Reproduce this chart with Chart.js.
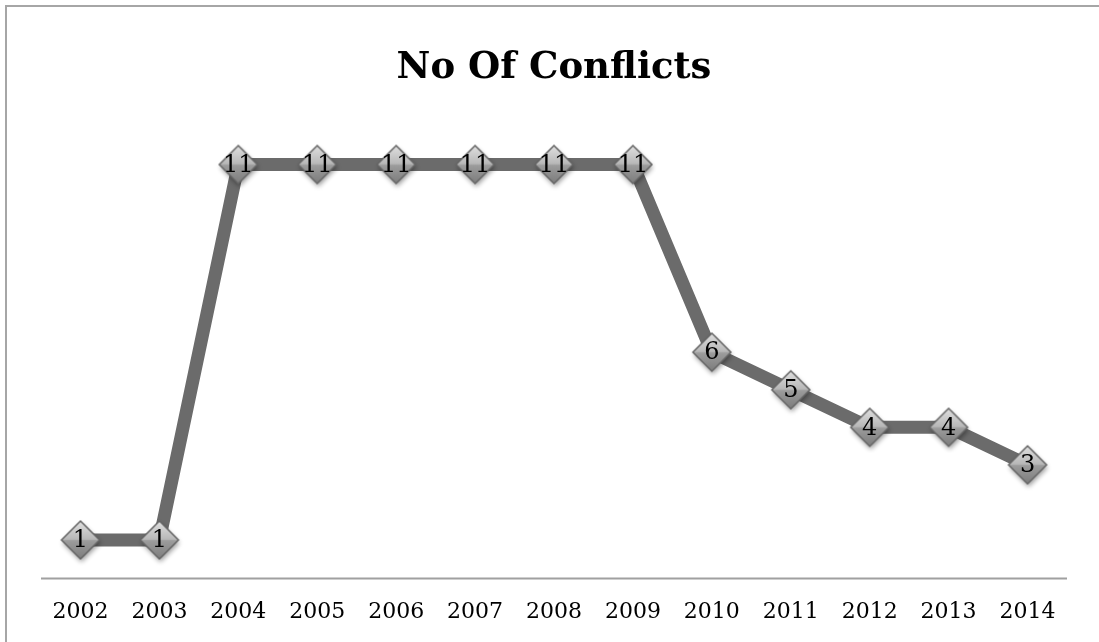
<!DOCTYPE html>
<html>
<head>
<meta charset="utf-8">
<script src="https://cdn.jsdelivr.net/npm/chart.js@4/dist/chart.umd.min.js"></script>
<style>
  html, body { margin: 0; padding: 0; background: #fff; }
  #wrap { width: 1099px; height: 642px; position: relative; }
</style>
</head>
<body>
<div id="wrap"><canvas id="c" width="1099" height="642"></canvas></div>
<script>
const years = ['2002','2003','2004','2005','2006','2007','2008','2009','2010','2011','2012','2013','2014'];
const conflicts = [1, 1, 11, 11, 11, 11, 11, 11, 6, 5, 4, 4, 3];
const chartTitle = 'No Of Conflicts';

// marker image: diamond with gradient and soft shadow
function makeMarker() {
  const S = 52, c = document.createElement('canvas');
  c.width = S; c.height = S;
  const g = c.getContext('2d');
  const cx = S / 2, cy = S / 2, r = 19;
  const path = () => {
    g.beginPath();
    g.moveTo(cx, cy - r); g.lineTo(cx + r, cy); g.lineTo(cx, cy + r); g.lineTo(cx - r, cy); g.closePath();
  };
  g.save();
  g.shadowColor = 'rgba(0,0,0,0.4)';
  g.shadowBlur = 5; g.shadowOffsetX = 1; g.shadowOffsetY = 3;
  path(); g.fillStyle = '#999'; g.fill();
  g.restore();
  const grad = g.createLinearGradient(0, cy - r, 0, cy + r);
  grad.addColorStop(0, '#e0e0e0');
  grad.addColorStop(0.48, '#b8b8b8');
  grad.addColorStop(0.52, '#9c9c9c');
  grad.addColorStop(1, '#7c7c7c');
  path(); g.fillStyle = grad; g.fill();
  g.lineWidth = 1.5; g.strokeStyle = '#666666'; g.stroke();
  return c;
}
const marker = makeMarker();

const frame = {
  id: 'frame',
  beforeDraw(chart) {
    const ctx = chart.ctx;
    ctx.save();
    ctx.fillStyle = '#fff';
    ctx.fillRect(0, 0, chart.width, chart.height);
    ctx.strokeStyle = '#a6a6a6';
    ctx.lineWidth = 2;
    ctx.beginPath();
    ctx.moveTo(6, chart.height + 5);
    ctx.lineTo(6, 6);
    ctx.lineTo(chart.width + 5, 6);
    ctx.stroke();
    ctx.fillStyle = '#000';
    ctx.font = 'bold 37px "DejaVu Serif"';
    ctx.textAlign = 'center';
    ctx.textBaseline = 'alphabetic';
    ctx.fillText(chartTitle, 554, 78);
    const x = chart.scales.x, y = chart.scales.y;
    const y0 = Math.round(y.getPixelForValue(0)) + 0.5;
    ctx.strokeStyle = '#a0a0a0';
    ctx.lineWidth = 2;
    ctx.beginPath();
    ctx.moveTo(x.left, y0);
    ctx.lineTo(x.right, y0);
    ctx.stroke();
    ctx.restore();
  },
  afterDatasetsDraw(chart) {
    const ctx = chart.ctx;
    const meta = chart.getDatasetMeta(0);
    ctx.save();
    ctx.fillStyle = '#000';
    ctx.font = '24px "DejaVu Serif"';
    ctx.textAlign = 'center';
    ctx.textBaseline = 'middle';
    meta.data.forEach((pt, i) => {
      ctx.fillText(String(conflicts[i]), pt.x, pt.y + 1);
    });
    ctx.restore();
  }
};

new Chart(document.getElementById('c'), {
  type: 'line',
  data: {
    labels: years,
    datasets: [{
      data: conflicts,
      borderColor: '#6b6b6b',
      borderWidth: 13,
      tension: 0,
      pointStyle: marker,
      pointRadius: 19,
      pointHoverRadius: 19
    }]
  },
  plugins: [frame],
  options: {
    responsive: false,
    animation: false,
    events: [],
    layout: { padding: { left: 41, right: 32, top: 127, bottom: 0 } },
    plugins: { legend: { display: false }, title: { display: false }, tooltip: { enabled: false } },
    scales: {
      x: {
        offset: true,
        grid: { display: false, drawTicks: false },
        border: { display: false },
        ticks: {
          color: '#000',
          font: { family: 'DejaVu Serif', size: 22 },
          padding: 22,
          maxRotation: 0,
          autoSkip: false
        },
        afterFit(scale) { scale.height = 64.5; }
      },
      y: { display: false, min: 0, max: 12 }
    }
  }
});
</script>
</body>
</html>
